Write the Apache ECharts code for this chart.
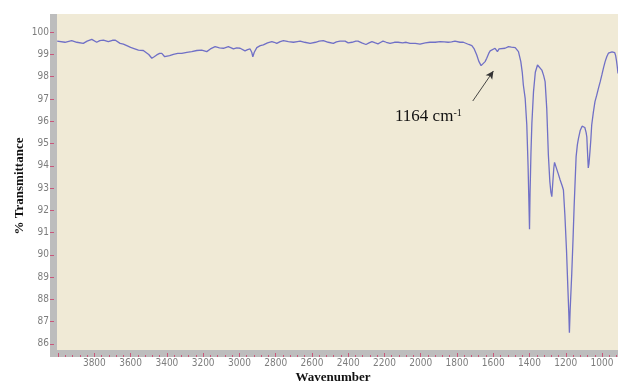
<!DOCTYPE html>
<html>
<head>
<meta charset="utf-8">
<script src="https://cdn.jsdelivr.net/npm/echarts@6/dist/echarts.min.js"></script>
<style>
html,body{margin:0;padding:0;background:#fff;}
#chart{width:618px;height:385px;}
</style>
</head>
<body>
<div id="chart"></div>
<script>
// Data
const wavenumbers = [4005,3962,3925,3897,3861,3840,3814,3787,3770,3750,3723,3700,3686,3658,3640,3621,3600,3585,3557,3530,3520,3500,3483,3470,3456,3440,3428,3412,3401,3385,3364,3340,3318,3290,3263,3235,3208,3180,3160,3134,3110,3088,3061,3045,3033,3015,2996,2985,2969,2955,2941,2932,2926,2918,2904,2885,2868,2845,2821,2808,2794,2775,2757,2730,2702,2680,2665,2640,2610,2580,2560,2537,2510,2482,2465,2445,2417,2400,2379,2358,2346,2325,2302,2285,2269,2250,2236,2220,2208,2190,2169,2145,2125,2100,2080,2059,2030,2004,1975,1949,1920,1893,1870,1849,1830,1811,1783,1765,1755,1735,1718,1705,1691,1680,1667,1657,1645,1636,1625,1617,1608,1590,1577,1568,1558,1535,1516,1500,1479,1470,1461,1448,1440,1434,1424,1415,1408,1404,1400,1397,1392,1387,1378,1368,1356,1345,1332,1322,1314,1305,1296,1288,1282,1277,1272,1266,1262,1259,1250,1240,1231,1220,1213,1205,1196,1188,1183,1180,1176,1167,1160,1154,1148,1143,1136,1130,1120,1110,1103,1095,1088,1084,1080,1076,1072,1067,1062,1057,1048,1039,1030,1020,1010,1001,992,983,974,965,955,945,937,930,925,920,916,912];
const transmittance = [99.60,99.55,99.62,99.55,99.50,99.60,99.68,99.55,99.62,99.65,99.58,99.64,99.65,99.50,99.47,99.40,99.32,99.28,99.20,99.18,99.16,99.00,98.83,98.90,98.98,99.05,99.05,98.90,98.83,98.95,99.01,99.05,99.05,99.10,99.13,99.18,99.20,99.13,99.25,99.35,99.30,99.28,99.35,99.30,99.25,99.30,99.28,99.22,99.16,99.22,99.25,99.10,98.90,99.10,99.31,99.40,99.43,99.52,99.58,99.55,99.50,99.58,99.62,99.58,99.55,99.58,99.60,99.55,99.50,99.55,99.60,99.62,99.55,99.50,99.57,99.60,99.60,99.52,99.55,99.60,99.60,99.52,99.45,99.52,99.58,99.52,99.48,99.55,99.60,99.55,99.50,99.55,99.55,99.52,99.55,99.50,99.50,99.47,99.52,99.55,99.55,99.58,99.57,99.55,99.57,99.60,99.55,99.55,99.50,99.45,99.40,99.25,98.98,98.70,98.50,98.52,98.68,98.83,99.05,99.16,99.20,99.28,99.13,99.25,99.31,99.28,99.35,99.33,99.31,99.25,99.13,98.68,98.20,97.63,97.03,95.83,94.00,92.60,91.15,92.80,94.60,95.90,97.33,98.20,98.53,98.45,98.30,98.05,97.78,96.58,94.48,93.30,92.80,92.61,93.20,93.90,94.15,94.18,93.85,93.60,93.36,93.10,92.91,91.80,90.20,88.40,87.30,86.50,87.50,89.16,90.70,92.16,93.40,94.41,94.95,95.23,95.60,95.78,95.83,95.72,95.50,95.30,94.60,93.90,94.10,94.60,95.16,95.83,96.40,96.88,97.15,97.48,97.78,98.08,98.40,98.68,98.90,99.06,99.10,99.12,99.13,99.08,98.95,98.70,98.45,98.15];

const xLabelValues = [3800,3600,3400,3200,3000,2800,2600,2400,2200,2000,1800,1600,1400,1200,1000];
const xMajorTicks = [4000,3800,3600,3400,3200,3000,2800,2600,2400,2200,2000,1800,1600,1400,1200,1000];
const yLabelValues = [86,87,88,89,90,91,92,93,94,95,96,97,98,99,100];
const annotationText = '1164 cm';
const annotationSup = '-1';
const annotationArrow = [[1713, 96.91], [1599, 98.26]];

const X_MIN = 912, X_MAX = 4006;
const Y_MIN = 85.72, Y_MAX = 100.82;

const xMinorTicks = [];
for (let w = 920; w <= 4000; w += 40) xMinorTicks.push(w);

const seriesData = wavenumbers.map((w, i) => [w, transmittance[i]]);

const tickFont = '"Liberation Sans Narrow","DejaVu Sans Condensed","Liberation Sans",sans-serif';
const tickRed = '#c9577a';
const labelGray = '#7d7d7d';
const band = '#bdbdbd';
const plain = v => String(v);

const chart = echarts.init(document.getElementById('chart'), null, {renderer: 'canvas'});
chart.setOption({
  animation: false,
  backgroundColor: '#ffffff',
  grid: {left: 57, right: 0, top: 14, bottom: 35, show: true, backgroundColor: '#f0ead6', borderWidth: 0},
  xAxis: [{
    type: 'value', min: X_MIN, max: X_MAX, inverse: true, offset: 3, z: 10,
    axisLine: {show: false},
    axisTick: {show: true, customValues: xMajorTicks, length: 4, lineStyle: {color: tickRed, width: 1}},
    axisLabel: {customValues: xLabelValues, formatter: plain, margin: 5, color: labelGray, fontSize: 10, fontFamily: tickFont},
    splitLine: {show: false}
  }, {
    type: 'value', min: X_MIN, max: X_MAX, inverse: true, position: 'bottom', offset: 7, z: 10,
    axisLine: {show: false},
    axisTick: {show: true, customValues: xMinorTicks, inside: true, length: 2, lineStyle: {color: tickRed, width: 1}},
    axisLabel: {show: false},
    splitLine: {show: false}
  }],
  yAxis: {
    type: 'value', min: Y_MIN, max: Y_MAX, offset: 3, z: 10,
    axisLine: {show: false},
    axisTick: {show: true, customValues: yLabelValues, length: 4, lineStyle: {color: tickRed, width: 1}},
    axisLabel: {customValues: yLabelValues, formatter: plain, margin: 5, color: labelGray, fontSize: 10, fontFamily: tickFont},
    splitLine: {show: false}
  },
  graphic: [
    {type: 'rect', z: 1, shape: {x: 50, y: 14, width: 7, height: 343}, style: {fill: band}},
    {type: 'rect', z: 1, shape: {x: 50, y: 350, width: 568, height: 7}, style: {fill: band}},
    {type: 'text', z: 20, x: 333, y: 378, style: {text: 'Wavenumber', fill: '#111', font: 'bold 13px "Liberation Serif", "Times New Roman", serif', textAlign: 'center', textVerticalAlign: 'middle'}},
    {type: 'text', z: 20, x: 20, y: 186, rotation: Math.PI / 2, style: {text: '% Transmittance', fill: '#111', font: 'bold 13px "Liberation Serif", "Times New Roman", serif', textAlign: 'center', textVerticalAlign: 'middle'}},
    {type: 'text', z: 20, x: 395, y: 117, style: {
      text: '{a|' + annotationText + '}{s|' + annotationSup + '}',
      textVerticalAlign: 'middle',
      rich: {
        a: {fontFamily: '"Liberation Serif", serif', fontSize: 17, fill: '#111', color: '#111'},
        s: {fontFamily: '"Liberation Serif", serif', fontSize: 10, color: '#111', fill: '#111', verticalAlign: 'top', padding: [0, 0, 8, 0]}
      }
    }}
  ],
  series: [{
    type: 'line',
    xAxisIndex: 0,
    data: seriesData,
    showSymbol: false,
    symbol: 'none',
    lineStyle: {color: '#7070c6', width: 1.3},
    z: 5,
    markLine: {
      silent: true,
      symbol: ['none', 'arrow'],
      symbolSize: [6, 8],
      label: {show: false},
      lineStyle: {color: '#333', width: 0.9, type: 'solid'},
      data: [[{coord: annotationArrow[0]}, {coord: annotationArrow[1]}]]
    }
  }]
});
</script>
</body>
</html>
